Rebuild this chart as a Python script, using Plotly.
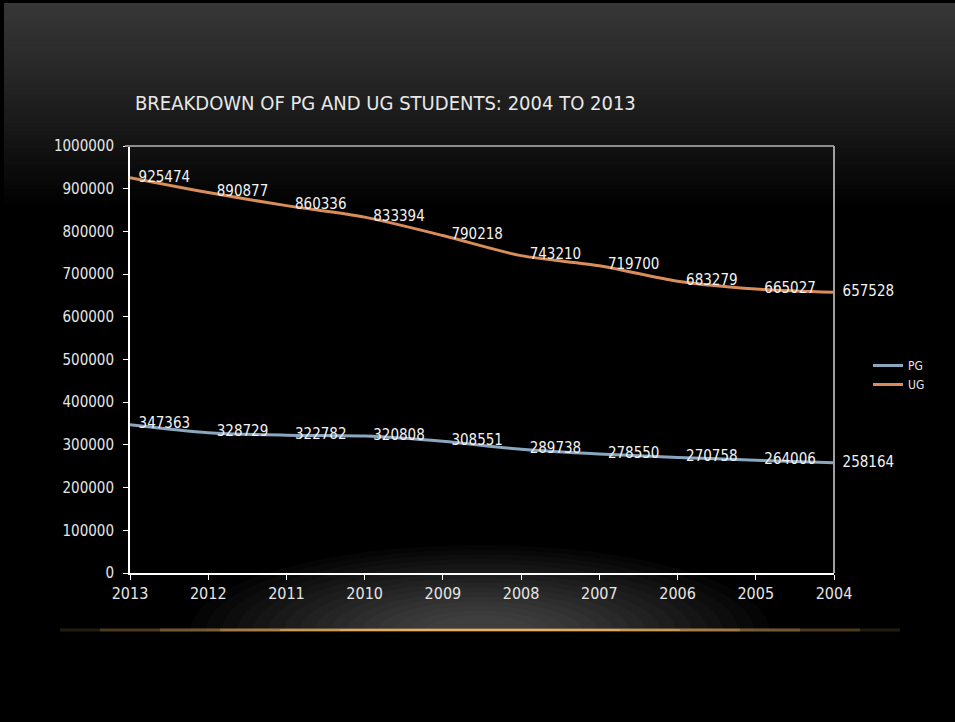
import plotly.graph_objects as go

years = ["2013", "2012", "2011", "2010", "2009", "2008", "2007", "2006", "2005", "2004"]
pg_values = [347363, 328729, 322782, 320808, 308551, 289738, 278550, 270758, 264006, 258164]
ug_values = [925474, 890877, 860336, 833394, 790218, 743210, 719700, 683279, 665027, 657528]
y_ticks = [0, 100000, 200000, 300000, 400000, 500000, 600000, 700000, 800000, 900000, 1000000]

W, H = 955, 722
L, R, T, B = 130, 834, 146, 573
FONT = "Liberation Sans Narrow, DejaVu Sans Condensed, Roboto, sans-serif"


def px(x):
    return (x - L) / (R - L)


def py(y):
    return (B - y) / (B - T)


fig = go.Figure()
fig.add_trace(go.Scatter(
    x=years, y=pg_values, name="PG", mode="lines+text",
    line=dict(color="#8ba7c0", width=3, shape="spline", smoothing=0.8),
    text=["  " + str(v) for v in pg_values], textposition="middle right",
    textfont=dict(color="#f2f2f2", size=15, family=FONT), cliponaxis=False,
))
fig.add_trace(go.Scatter(
    x=years, y=ug_values, name="UG", mode="lines+text",
    line=dict(color="#d98d5a", width=3, shape="spline", smoothing=0.8),
    text=["  " + str(v) for v in ug_values], textposition="middle right",
    textfont=dict(color="#f2f2f2", size=15, family=FONT), cliponaxis=False,
))

shapes = []
# slide background gradient (top grey fading to black)
n = 50
top, bottom = 3, 210
for i in range(n):
    y0 = top + (bottom - top) * i / n
    y1 = top + (bottom - top) * (i + 1) / n + 1.5
    t = i / (n - 1)
    c = max(0, int(round(54 - 54 * t ** 1.15)))
    shapes.append(dict(type="rect", xref="paper", yref="paper",
                       x0=px(4), x1=px(W + 5), y0=py(y1), y1=py(y0),
                       fillcolor=f"rgb({c},{c},{c})", line=dict(width=0), layer="below"))
# soft glow under axis
cx, cy = 480, 632
for k in range(16):
    f = 1 - k / 16
    rx = 40 + 250 * f
    ry = 12 + 75 * f
    shapes.append(dict(type="circle", xref="paper", yref="paper",
                       x0=px(cx - rx), x1=px(cx + rx), y0=py(cy + ry), y1=py(cy - ry),
                       fillcolor="white", opacity=0.02, line=dict(width=0), layer="below"))
# black below the glow line
shapes.append(dict(type="rect", xref="paper", yref="paper",
                   x0=px(0), x1=px(W + 5), y0=py(H + 5), y1=py(631),
                   fillcolor="black", line=dict(width=0), layer="below"))
# orange glow line
for x0, x1, op, w in [(60, 900, 0.15, 3), (100, 860, 0.2, 3), (160, 800, 0.25, 3),
                      (220, 740, 0.35, 2.5), (280, 680, 0.5, 2), (340, 620, 0.7, 2),
                      (400, 560, 0.9, 2)]:
    shapes.append(dict(type="line", xref="paper", yref="paper",
                       x0=px(x0), x1=px(x1), y0=py(630), y1=py(630),
                       line=dict(color="#eab264", width=w), opacity=op, layer="below"))
# plot frame top and right
shapes.append(dict(type="line", xref="paper", yref="paper", x0=px(125), x1=1, y0=1, y1=1,
                   line=dict(color="#8c8c8c", width=2)))
shapes.append(dict(type="line", xref="paper", yref="paper", x0=1, x1=1, y0=0, y1=1,
                   line=dict(color="#a0a0a0", width=2)))

fig.update_layout(
    width=W, height=H,
    margin=dict(l=L, r=W - R, t=T, b=H - B),
    paper_bgcolor="black", plot_bgcolor="rgba(0,0,0,0)",
    shapes=shapes,
    showlegend=True,
    legend=dict(x=px(868), y=py(375), xanchor="left", yanchor="middle",
                font=dict(color="#e6e6e6", size=12, family=FONT),
                bgcolor="rgba(0,0,0,0)", itemwidth=30, tracegroupgap=0),
    annotations=[dict(text="BREAKDOWN OF PG AND UG STUDENTS: 2004 TO 2013",
                      xref="paper", yref="paper", x=px(133), y=py(103),
                      xanchor="left", yanchor="middle", showarrow=False,
                      font=dict(color="#e8e8e8", size=20, family=FONT))],
    xaxis=dict(type="category", categoryorder="array", categoryarray=years,
               range=[0, 9], showgrid=False, zeroline=False,
               showline=True, linecolor="white", linewidth=2,
               ticks="outside", ticklen=5, tickcolor="white",
               tickfont=dict(color="#e6e6e6", size=16, family=FONT)),
    yaxis=dict(range=[0, 1000000], tickvals=y_ticks, ticktext=[str(v) for v in y_ticks],
               showgrid=False, zeroline=False,
               showline=True, linecolor="white", linewidth=2,
               ticks="outside", ticklen=5, tickcolor="white", ticklabelstandoff=6,
               tickfont=dict(color="#e6e6e6", size=15, family=FONT)),
)

fig.write_html("out.html", config={"displayModeBar": False},
               post_script="document.body.style.margin='0';document.body.style.background='black';")
